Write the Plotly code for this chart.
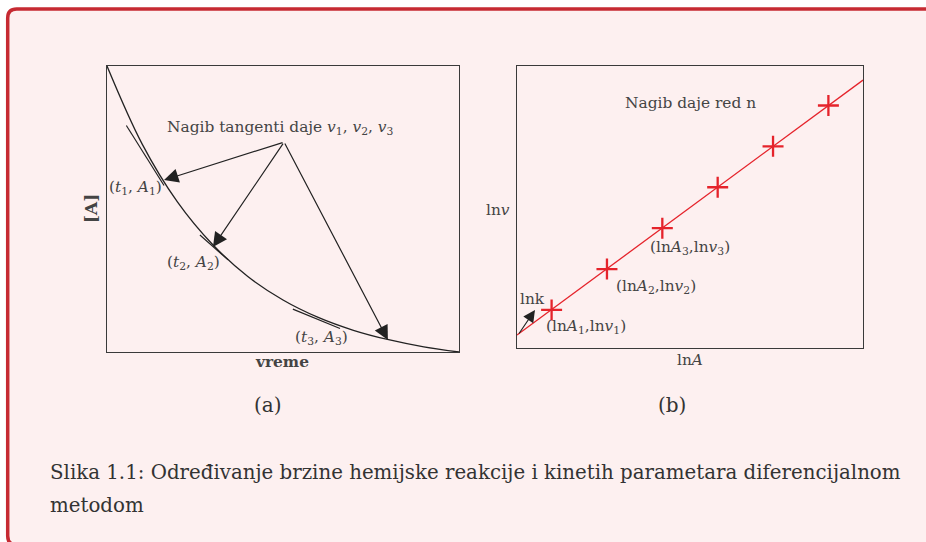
import plotly.graph_objects as go

W, H = 926, 542

# ---------------- data (panel a) ----------------
time_t = [0, 1, 2, 3, 4, 5, 6, 7, 8, 9, 10]
conc_A = [1.0, 0.727, 0.525, 0.376, 0.264, 0.182, 0.121, 0.076, 0.043, 0.018, 0.0]

tangent_t0 = [0.55, 2.64, 5.28]
tangent_A0 = [0.792, 0.409, 0.150]
tangent_t1 = [1.62, 3.44, 6.62]
tangent_A1 = [0.582, 0.322, 0.082]

arrow_origin = (5.03, 0.734)
arrow_head_t = [1.62, 3.01, 7.98]
arrow_head_A = [0.601, 0.367, 0.042]

point_labels_a = ["(<i>t</i><sub>1</sub>, <i>A</i><sub>1</sub>)",
                  "(<i>t</i><sub>2</sub>, <i>A</i><sub>2</sub>)",
                  "(<i>t</i><sub>3</sub>, <i>A</i><sub>3</sub>)"]
point_label_t = [0.82, 2.47, 6.08]
point_label_A = [0.573, 0.311, 0.049]

# ---------------- data (panel b) ----------------
lnA_pts = [1.0, 2.6, 4.2, 5.8, 7.4, 9.0]
lnv_pts = [1.35, 2.8, 4.25, 5.7, 7.15, 8.6]
fit_lnA = [0, 10]
fit_lnv = [0.46, 9.5]

point_labels_b = ["(ln<i>A</i><sub>1</sub>,ln<i>v</i><sub>1</sub>)",
                  "(ln<i>A</i><sub>2</sub>,ln<i>v</i><sub>2</sub>)",
                  "(ln<i>A</i><sub>3</sub>,ln<i>v</i><sub>3</sub>)"]
point_label_x = [1.99, 4.02, 5.0]
point_label_y = [0.745, 2.16, 3.55]

lnk_tail = (0.03, 0.46)
lnk_head = (0.52, 1.35)

caption_1 = "Slika 1.1: Određivanje brzine hemijske reakcije i kinetih parametara diferencijalnom"
caption_2 = "metodom"

# ---------------- styling ----------------
FONT = "DejaVu Serif"
PINK = "#fdf0f0"
BORDER = "#c62a32"
RED = "#e5232b"
INK = "#222222"
GRAY = "#444444"
LBL = 15.4


def px(x):
    return x / W


def py(y):
    return 1 - y / H


fig = go.Figure()

# panel a
fig.add_trace(go.Scatter(x=time_t, y=conc_A, mode="lines",
                         line=dict(color=INK, width=1.3, shape="spline", smoothing=1.0),
                         xaxis="x", yaxis="y", hoverinfo="skip"))
tx, ty = [], []
for a, b, c, d in zip(tangent_t0, tangent_A0, tangent_t1, tangent_A1):
    tx += [a, c, None]
    ty += [b, d, None]
fig.add_trace(go.Scatter(x=tx, y=ty, mode="lines", line=dict(color=INK, width=1.2),
                         xaxis="x", yaxis="y", hoverinfo="skip"))

# panel b
fig.add_trace(go.Scatter(x=fit_lnA, y=fit_lnv, mode="lines", line=dict(color=RED, width=1.3),
                         xaxis="x2", yaxis="y2", hoverinfo="skip"))
fig.add_trace(go.Scatter(x=lnA_pts, y=lnv_pts, mode="markers",
                         marker=dict(symbol="cross-thin", size=15, line=dict(color=RED, width=2.3)),
                         xaxis="x2", yaxis="y2", hoverinfo="skip"))

ann = []


def label(x, y, text, xref, yref, size=LBL, color=GRAY, **kw):
    d = dict(x=x, y=y, xref=xref, yref=yref, showarrow=False, text=text,
             xanchor="center", yanchor="middle",
             font=dict(family=FONT, size=size, color=color))
    d.update(kw)
    ann.append(d)


# arrows panel a
for t, A in zip(arrow_head_t, arrow_head_A):
    ann.append(dict(x=t, y=A, ax=arrow_origin[0], ay=arrow_origin[1], xref="x", yref="y",
                    axref="x", ayref="y", showarrow=True, arrowhead=2, arrowsize=2.4,
                    arrowwidth=1.2, arrowcolor=INK, text=""))
label(4.94, 0.783,
      "Nagib tangenti daje <i>v</i><sub>1</sub>, <i>v</i><sub>2</sub>, <i>v</i><sub>3</sub>", "x", "y")
for s, t, A in zip(point_labels_a, point_label_t, point_label_A):
    label(t, A, s, "x", "y")

# panel b annotations
ann.append(dict(x=lnk_head[0], y=lnk_head[1], ax=lnk_tail[0], ay=lnk_tail[1], xref="x2", yref="y2",
                axref="x2", ayref="y2", showarrow=True, arrowhead=2, arrowsize=2.0,
                arrowwidth=1.2, arrowcolor=INK, text=""))
label(0.46, 1.74, "lnk", "x2", "y2")
label(5.0, 8.69, "Nagib daje red n", "x2", "y2")
for s, x, y in zip(point_labels_b, point_label_x, point_label_y):
    label(x, y, s, "x2", "y2")

# axis labels & sub-captions (paper)
label(px(91), py(209), "<b>[A]</b>", "paper", "paper", size=17, textangle=-90)
label(px(282), py(362), "<b>vreme</b>", "paper", "paper")
label(px(498), py(210), "ln<i>v</i>", "paper", "paper")
label(px(690), py(360), "ln<i>A</i>", "paper", "paper")
label(px(268), py(405), "(a)", "paper", "paper", size=20, color="#333333")
label(px(672), py(405), "(b)", "paper", "paper", size=20, color="#333333")
label(px(48), py(472), caption_1, "paper", "paper", size=19.8, color="#333333", xanchor="left")
label(px(48), py(505), caption_2, "paper", "paper", size=19.8, color="#333333", xanchor="left")

# rounded box background / border (box continues beyond the right/bottom edges)
r = 9
bx, by_top, by_bot, bx_right = 7.7, 9.0, 545, 926
corner_path = (f"M {px(bx_right)},{py(by_top)} L {px(bx + r)},{py(by_top)} "
               f"Q {px(bx)},{py(by_top)} {px(bx)},{py(by_top + r)} "
               f"L {px(bx)},{py(by_bot - r)} Q {px(bx)},{py(by_bot)} {px(bx + r)},{py(by_bot)} "
               f"L {px(bx_right)},{py(by_bot)}")
shapes = [
    dict(type="path", path=corner_path + " Z", xref="paper", yref="paper", fillcolor=PINK,
         line=dict(width=0), layer="below"),
    dict(type="path", path=corner_path, xref="paper", yref="paper", fillcolor="rgba(0,0,0,0)",
         line=dict(color=BORDER, width=3.5), layer="below"),
]

axis_common = dict(showline=True, mirror=True, linecolor="#3a3a3a", linewidth=1.2,
                   showgrid=False, zeroline=False, showticklabels=False, ticks="",
                   fixedrange=True)

fig.update_layout(
    width=W, height=H, margin=dict(l=0, r=0, t=0, b=0),
    paper_bgcolor="white", plot_bgcolor="rgba(0,0,0,0)", showlegend=False,
    xaxis=dict(domain=[px(107), px(459)], range=[0, 10], anchor="y", **axis_common),
    yaxis=dict(domain=[py(352), py(66)], range=[0, 1], anchor="x", **axis_common),
    xaxis2=dict(domain=[px(517), px(863)], range=[0, 10], anchor="y2", **axis_common),
    yaxis2=dict(domain=[py(348), py(66)], range=[0, 10], anchor="x2", **axis_common),
    annotations=ann, shapes=shapes,
)

fig.write_html("out.html", config={"displayModeBar": False},
               post_script="document.body.style.margin='0';document.body.style.overflow='hidden';")
